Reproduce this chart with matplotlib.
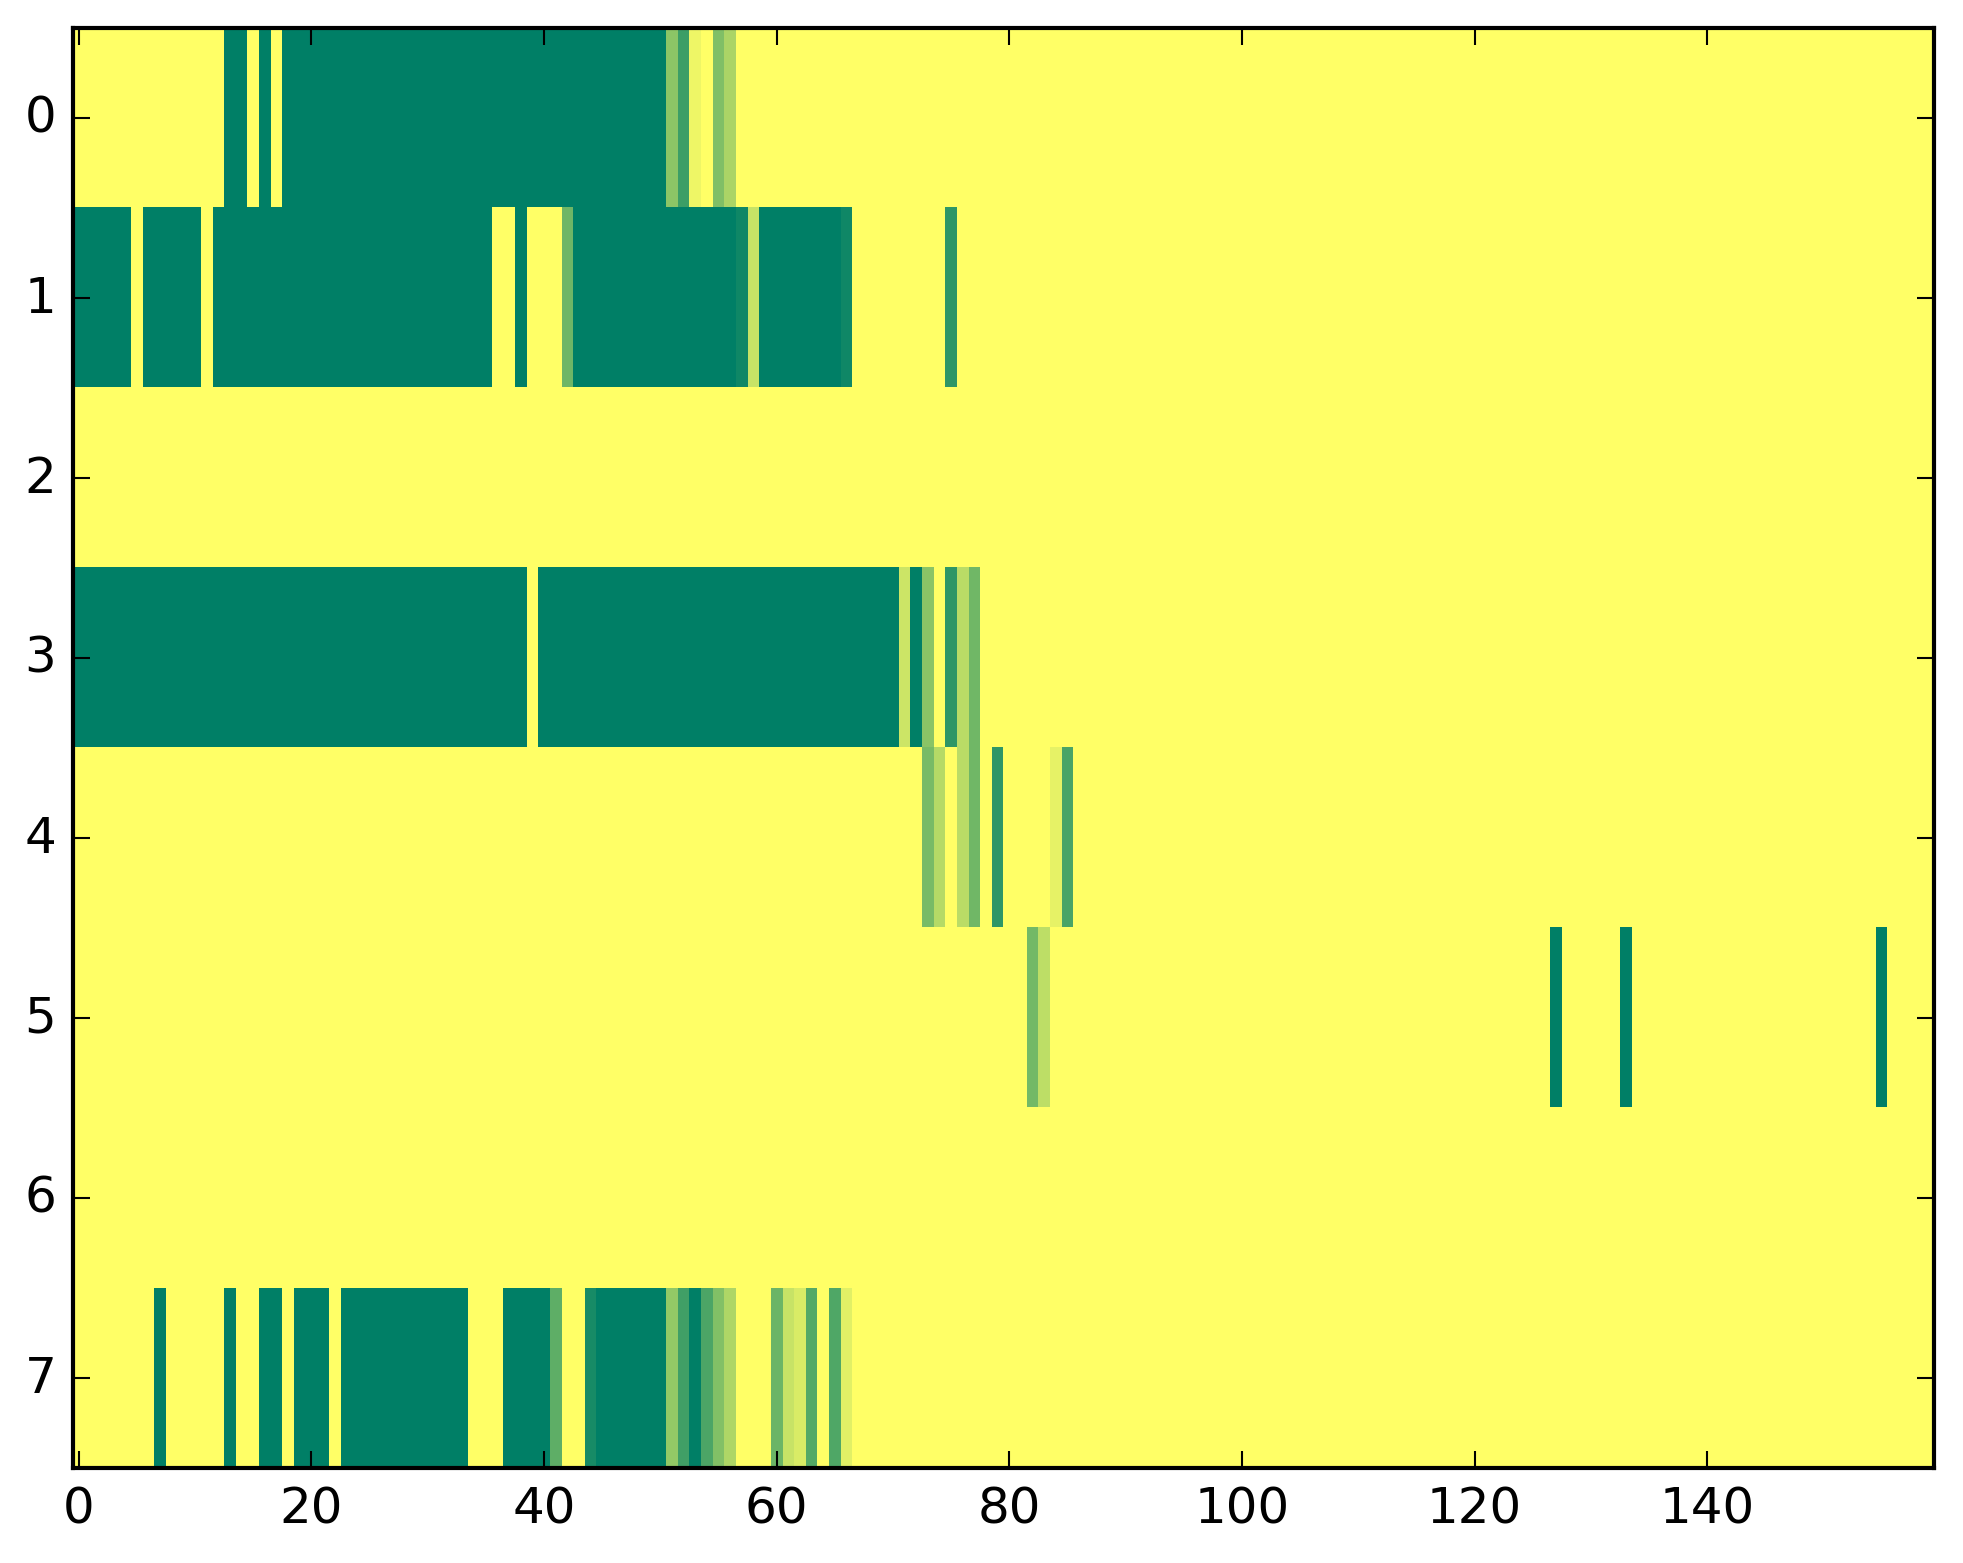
import numpy as np
import matplotlib
matplotlib.use("Agg")
import matplotlib.pyplot as plt

plt.style.use("classic")

# Run-length encoded rows: (value, number of columns); 160 columns per row
row0 = [(1, 13), (0, 2), (1, 1), (0, 1), (1, 1), (0, 33), (0.55, 1), (0.24, 1),
        (0.93, 1), (1, 1), (0.50, 1), (0.67, 1), (1, 103)]
row1 = [(0, 5), (1, 1), (0, 5), (1, 1), (0, 24), (1, 2), (0, 1), (1, 3), (0.43, 1),
        (0, 14), (0.06, 1), (0.78, 1), (0, 7), (0.06, 1), (1, 8), (0.18, 1), (1, 84)]
row2 = [(1, 160)]
row3 = [(0, 39), (1, 1), (0, 31), (0.80, 1), (0, 1), (0.54, 1), (1, 1), (0.18, 1),
        (0.73, 1), (0.44, 1), (1, 82)]
row4 = [(1, 73), (0.47, 1), (0.71, 1), (1, 1), (0.73, 1), (0.44, 1), (1, 1), (0.18, 1),
        (1, 4), (0.90, 1), (0.29, 1), (1, 74)]
row5 = [(1, 82), (0.45, 1), (0.74, 1), (1, 43), (0, 1), (1, 5), (0, 1), (1, 21), (0, 1), (1, 4)]
row6 = [(1, 160)]
row7 = [(1, 7), (0, 1), (1, 5), (0, 1), (1, 2), (0, 2), (1, 1), (0, 3), (1, 1), (0, 11),
        (1, 3), (0, 4), (0.37, 1), (1, 2), (0.09, 1), (0, 6), (0.58, 1), (0.25, 1), (0, 1),
        (0.30, 1), (0.51, 1), (0.68, 1), (1, 3), (0.42, 1), (0.78, 1), (0.85, 1), (0.33, 1),
        (1, 1), (0.31, 1), (0.88, 1), (1, 93)]

rows = [row0, row1, row2, row3, row4, row5, row6, row7]


def expand(runs):
    vals = [v for v, _ in runs]
    counts = [c for _, c in runs]
    return np.repeat(np.array(vals, dtype=float), counts)


data = np.vstack([expand(r) for r in rows])

x_ticks = [0, 20, 40, 60, 80, 100, 120, 140]
y_ticks = [0, 1, 2, 3, 4, 5, 6, 7]

fig = plt.figure(figsize=(1963 / 300, 1564 / 300), dpi=300, facecolor="white")
left, right, top, bottom = 73, 1934, 28.5, 1469
ax = fig.add_axes([left / 1963, 1 - bottom / 1564, (right - left) / 1963, (bottom - top) / 1564])
ax.imshow(data, cmap="summer", vmin=0, vmax=1, interpolation="nearest", aspect="auto")
ax.set_xticks(x_ticks)
ax.set_yticks(y_ticks)
ax.set_xlim(-0.5, data.shape[1] - 0.5)
ax.set_ylim(data.shape[0] - 0.5, -0.5)
ax.tick_params(labelsize=12)

fig.savefig("out.png", dpi=300, facecolor="white")
